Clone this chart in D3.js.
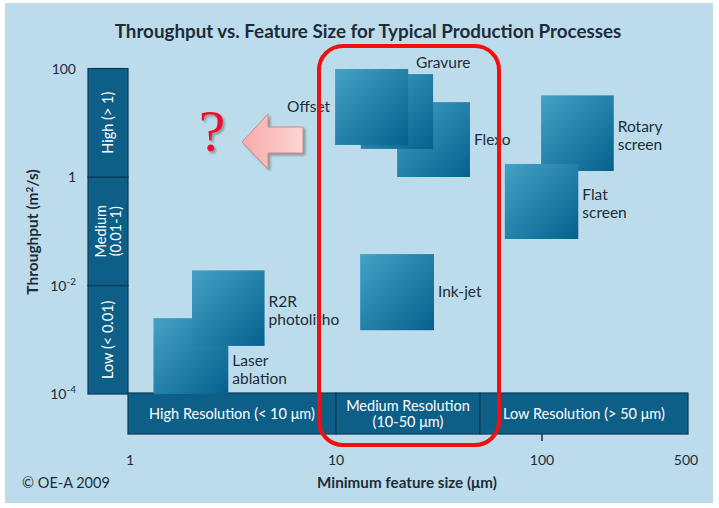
<!DOCTYPE html>
<html><head><meta charset="utf-8">
<script src="https://cdn.jsdelivr.net/npm/d3@7"></script>
<style>body{margin:0;background:#fff;} svg{display:block;}</style>
</head><body><svg id="c" width="719" height="508"></svg>
<script>
// ---- data ----
const processes = ["Laser ablation", "R2R photolitho", "Flexo", "Gravure", "Offset", "Ink-jet", "Rotary screen", "Flat screen"];
const featMin = [1.3, 2.0, 19.8, 13.2, 9.9, 13.1, 99, 66];
const featMax = [3.0, 4.5, 44.7, 29.6, 22.4, 29.9, 223, 150];
const thrMin = [1e-4, 7.7e-4, 1.0, 3.3, 3.9, 0.0015, 1.29, 0.072];
const thrMax = [0.0025, 0.019, 24, 79, 98, 0.038, 32, 1.74];
const labelSide = ["right", "right", "right", "topright", "left", "right", "right", "right"];

const throughputCats = [["Low (< 0.01)"], ["Medium", "(0.01-1)"], ["High (> 1)"]];
const throughputLo = [1e-4, 0.01, 1];
const throughputHi = [0.01, 1, 100];

const resolutionCats = [["High Resolution (< 10 μm)"], ["Medium Resolution", "(10-50 μm)"], ["Low Resolution (> 50 μm)"]];
const resolutionLo = [1, 10, 50];
const resolutionHi = [10, 50, 500];

const xTicks = [1, 10, 100, 500];
const xTickLabels = ["1", "10", "100", "500"];
const yTicks = [100, 1, 0.01, 1e-4];
const yTickBase = ["100", "1", "10", "10"];
const yTickExp = ["", "", "-2", "-4"];

// ---- setup ----
const svg = d3.select("#c");
const W = 719, H = 508;
const font = "Lato, 'Open Sans', sans-serif";
const txt = "#1e2c3a";

const x = d3.scaleLog().domain([1, 500]).range([130, 686]);
const y = d3.scaleLog().domain([1e-4, 100]).range([394, 68.5]);

const defs = svg.append("defs");
const g1 = defs.append("linearGradient").attr("id", "sq").attr("x1", 0).attr("y1", 0).attr("x2", 1).attr("y2", 1);
g1.append("stop").attr("offset", "0%").attr("stop-color", "#44a2c6");
g1.append("stop").attr("offset", "100%").attr("stop-color", "#04618d");
const g2 = defs.append("linearGradient").attr("id", "arr").attr("x1", 0).attr("y1", 0).attr("x2", 1).attr("y2", 0);
g2.append("stop").attr("offset", "0%").attr("stop-color", "#f8aaaa");
g2.append("stop").attr("offset", "100%").attr("stop-color", "#fcd6d4");
const f = defs.append("filter").attr("id", "sh").attr("x", "-30%").attr("y", "-30%").attr("width", "160%").attr("height", "160%");
f.append("feDropShadow").attr("dx", 2).attr("dy", 2).attr("stdDeviation", 1.2).attr("flood-color", "#557766").attr("flood-opacity", 0.6);

// background panel
svg.append("rect").attr("x", 0).attr("y", 0).attr("width", W).attr("height", H).attr("fill", "#ffffff");
svg.append("rect").attr("x", 5).attr("y", 3).attr("width", 708).attr("height", 500).attr("fill", "#bcdcec");

// title
svg.append("text").attr("x", 368).attr("y", 38).attr("text-anchor", "middle")
  .attr("font-family", font).attr("font-weight", "bold").attr("font-size", 18.8).attr("fill", txt)
  .text("Throughput vs. Feature Size for Typical Production Processes");

// throughput category bars
const bx0 = 88, bx1 = 128;
throughputCats.forEach((lines, i) => {
  const yt = y(throughputHi[i]), yb = y(throughputLo[i]);
  svg.append("rect").attr("x", bx0).attr("y", yt).attr("width", bx1 - bx0).attr("height", yb - yt)
    .attr("fill", "#0d5f88").attr("stroke", "#0a3a55").attr("stroke-width", 1.2);
  const cx = (bx0 + bx1) / 2, cy = (yt + yb) / 2;
  const t = svg.append("text").attr("transform", `translate(${cx},${cy}) rotate(-90)`)
    .attr("text-anchor", "middle").attr("font-family", font).attr("font-size", 14.5).attr("fill", "#ffffff");
  lines.forEach((l, k) => {
    t.append("tspan").attr("x", 0).attr("y", (k - (lines.length - 1) / 2) * 15 + 5).text(l);
  });
});

// resolution category bars
const by0 = 393, by1 = 434;
resolutionCats.forEach((lines, i) => {
  const xl = x(resolutionLo[i]) - (i === 0 ? 2 : 0), xr = x(resolutionHi[i]) + (i === 2 ? 2 : 0);
  svg.append("rect").attr("x", xl).attr("y", by0).attr("width", xr - xl).attr("height", by1 - by0)
    .attr("fill", "#0d5f88").attr("stroke", "#0a3a55").attr("stroke-width", 1.2);
  const t = svg.append("text").attr("text-anchor", "middle").attr("font-family", font)
    .attr("font-size", 14.5).attr("fill", "#ffffff");
  lines.forEach((l, k) => {
    t.append("tspan").attr("x", (xl + xr) / 2).attr("y", (by0 + by1) / 2 + 5 + (k - (lines.length - 1) / 2) * 16).text(l);
  });
});
// small tick at 100
svg.append("line").attr("x1", x(100)).attr("x2", x(100)).attr("y1", by1).attr("y2", by1 + 7)
  .attr("stroke", "#1e2c3a").attr("stroke-width", 1.5);

// x tick labels
xTicks.forEach((v, i) => {
  svg.append("text").attr("x", x(v)).attr("y", 465).attr("text-anchor", "middle")
    .attr("font-family", font).attr("font-size", 14).attr("fill", txt).text(xTickLabels[i]);
});
// y tick labels
yTicks.forEach((v, i) => {
  const t = svg.append("text").attr("x", 76).attr("y", y(v) + 5).attr("text-anchor", "end")
    .attr("font-family", font).attr("font-size", 14).attr("fill", txt);
  t.append("tspan").text(yTickBase[i]);
  if (yTickExp[i]) t.append("tspan").attr("dy", -6).attr("font-size", 10).text(yTickExp[i]);
});

// axis titles
const yt = svg.append("text").attr("transform", `translate(38,232) rotate(-90)`).attr("text-anchor", "middle")
  .attr("font-family", font).attr("font-weight", "bold").attr("font-size", 15.5).attr("fill", txt);
yt.append("tspan").text("Throughput (m");
yt.append("tspan").attr("dy", -5).attr("font-size", 10).text("2");
yt.append("tspan").attr("dy", 5).text("/s)");
svg.append("text").attr("x", 407).attr("y", 488).attr("text-anchor", "middle")
  .attr("font-family", font).attr("font-weight", "bold").attr("font-size", 15.2).attr("fill", txt)
  .text("Minimum feature size (μm)");
svg.append("text").attr("x", 22).attr("y", 488).attr("font-family", font).attr("font-size", 14.5)
  .attr("fill", txt).text("© OE-A 2009");

// process boxes
processes.forEach((p, i) => {
  const x0 = x(featMin[i]), x1 = x(featMax[i]), y0 = y(thrMax[i]), y1 = y(thrMin[i]);
  svg.append("rect").attr("x", x0).attr("y", y0).attr("width", x1 - x0).attr("height", y1 - y0)
    .attr("fill", "url(#sq)");
  const words = p.split(" ");
  const lines = (p === "Laser ablation" || p === "R2R photolitho" || p === "Rotary screen" || p === "Flat screen") ? words : [p];
  const t = svg.append("text").attr("font-family", font).attr("font-size", 15.5).attr("fill", txt);
  let tx, ty;
  if (labelSide[i] === "left") { tx = x0 - 5; ty = y0 + 43; t.attr("text-anchor", "end"); }
  else if (labelSide[i] === "topright") { tx = x1 - 17; ty = y0 - 6; }
  else if (lines.length > 1) { tx = x1 + 4; ty = (y0 + y1) / 2 - 1; }
  else { tx = x1 + 4; ty = (y0 + y1) / 2 + 5; }
  if (p === "Laser ablation") ty = y0 + 48;
  lines.forEach((l, k) => t.append("tspan").attr("x", tx).attr("y", ty + k * 18).text(l));
});

// red rounded highlight
svg.append("rect").attr("x", 319).attr("y", 46).attr("width", 180).attr("height", 399).attr("rx", 24)
  .attr("fill", "none").attr("stroke", "#ee1111").attr("stroke-width", 4);

// pink arrow
svg.append("path").attr("d", "M242,142 L268,114 L268,127 L303,127 L303,153 L268,153 L268,169 Z")
  .attr("fill", "url(#arr)").attr("stroke", "#c98a8a").attr("stroke-width", 1).attr("filter", "url(#sh)");

// question mark
svg.append("text").attr("x", 212).attr("y", 151).attr("text-anchor", "middle")
  .attr("font-family", "'Liberation Serif', 'DejaVu Serif', serif").attr("font-size", 60)
  .attr("fill", "#ee1030").attr("filter", "url(#sh)").text("?");
</script></body></html>
